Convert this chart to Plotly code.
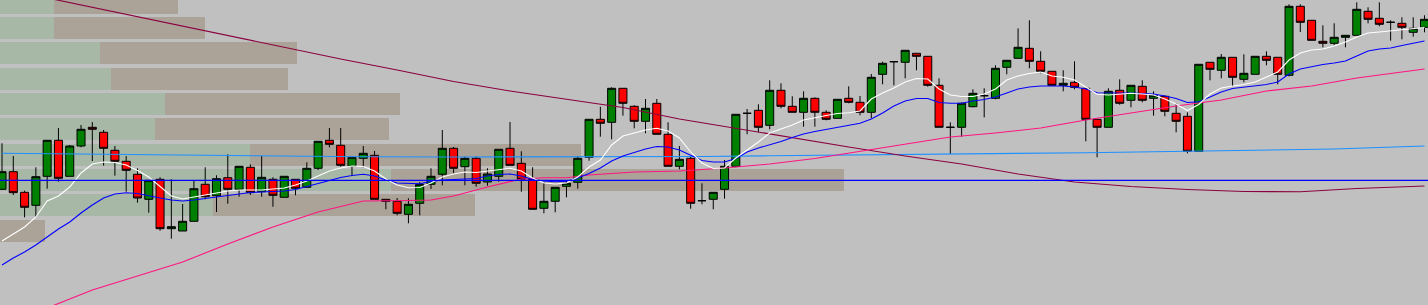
import plotly.graph_objects as go

# ---------------- data (prices in chart units) ----------------
open_ = [115.7,133.3,112.7,99.7,128.7,164.7,128.7,159,177.7,172.7,154.7,143.7,130.7,105.7,125.7,76.3,74,83.7,120.7,109.3,
         127.3,115.7,137.7,113.3,125.7,107.7,125.7,117.7,136.7,164.7,159.7,138.7,146.7,149.7,105.7,103.7,90.7,101.7,120.7,130.7,
         156.7,138.3,146.7,123,128.7,156.7,141.7,125.7,96.7,103.7,118.7,122.7,147.7,185.7,182.7,216.7,198.7,183.7,201.7,170.7,
         138.7,146.7,104.3,105.7,115.7,138.7,191.7,194.7,179.7,214.7,198.7,192.7,206.7,192.7,186.7,206.7,202.7,192.7,230.7,243.3,
         242.7,251.7,248.7,219.7,177.7,177.7,198.3,209.3,206.7,237.7,246.7,256.7,243.7,233.7,219.7,222.7,216.7,185.7,177.7,214.7,
         204.7,218.7,206.7,208.7,191.7,188.7,153.7,242.7,234.7,247.7,225.7,230.7,248.7,247.7,229.7,298.7,284.7,263.7,261.7,267.7,
         269.7,293.7,286.7,282.7,281.7,272.7,277.7]
high = [161.7,149,114.3,137.7,164.7,177,160,180,183,175,159,149,136.7,124.7,127.7,125.7,101,124.7,137.7,129.7,
        150.7,138.7,140.7,149,127.7,128.7,125.7,142.7,163.7,177,177,149,159,154,105.7,107,106.7,123,136.7,175,
        158,148.3,148.3,136.7,155.7,183,153.7,137.7,122.7,117.7,124.7,149,185.7,198.3,217.7,216.7,199.7,206,206,182.7,
        159,149,121.7,112.7,145,190.7,196,200.7,224.7,221.7,208.7,213.7,207.7,194.7,205.7,218.7,209,231,243.3,243.3,
        254.7,251.7,248.7,226.7,182.7,202.7,215.7,216.7,239.7,244.7,276.7,284.7,253.7,233.7,234.7,243.7,216.7,185.7,216.7,225.7,
        219.7,224.7,213.7,209.7,201.7,192.7,240.7,242.7,251,247.7,250.7,248.7,253.7,247.7,300.7,300.7,284.7,279.7,281.7,269.7,
        302.7,297.7,302.7,284.7,287.7,287.7,289.7]
low = [115,110,87.7,88.3,116.3,123.3,128.7,157.7,144,139.3,129.3,113.3,102.3,92.3,74.3,66.3,74,83.7,105.7,93,
       101.3,108.3,110,108.3,98.3,107.7,109.7,117.7,135,157.7,138.3,129,137.7,105.7,95.7,89.7,81.7,89.7,116,119.7,
       131.7,119.7,118.3,119.3,123.3,139.7,113.3,95.7,91.7,92.7,107.7,116.3,144.3,168.3,165.7,189.3,176.7,171.7,170.7,138.7,
       135.7,96.3,100.7,95.7,106.3,137.7,170.7,172.7,175.7,196.7,192.7,178.3,178.3,184.7,186.7,201.7,189.7,186.7,220.7,219.7,
       226.7,234.7,218.3,177.7,151,168.3,197.7,187.7,205.7,230.7,246.7,236.7,231.7,219.7,213.7,215.7,163.7,147.7,177.7,200.3,
       197.7,202.7,189.3,188.7,172.7,151.7,153.7,224.7,226.7,218.7,222.7,230.7,239.7,220.7,228.7,273,264.7,257.7,259.7,257.7,
       269.7,281.7,278.7,264.3,265.7,268.3,272.7]
close = [133.3,112.3,97.7,128.3,164.7,126.7,159,175.7,175.7,156.7,143.7,134.7,107,124.7,76.3,78.3,83.7,116.3,108.3,126.3,
         115.7,138.7,112.3,127.7,109.7,128.7,116.7,136.7,163.7,160.7,139.7,147.7,151.7,105.7,103.7,91.7,100.7,120.7,128.7,156.7,
         136.7,146.7,121.7,131,155.7,139.7,125.7,95.7,103.7,117.7,121.7,146.7,185.7,181.7,216.7,201.7,183.7,196.7,170.7,138.7,
         145.7,101.7,104.3,112.7,138.7,190.7,191.7,177.7,214.7,198.7,192.7,206.7,192.7,185.7,205.7,202.7,192.7,227.7,241.7,243.3,
         254.7,248.7,219.7,177.7,177.7,201.7,211.7,209.3,236.7,244.7,257.7,243.7,233.7,219.7,221.7,217.7,185.7,177.7,213.7,201.7,
         219.7,204.7,209.7,193.7,183.7,153.7,240.7,235.7,247.7,227.7,231.7,248.7,244.7,230.7,298.7,282.7,264.7,261.7,267.7,269.7,
         295.7,285.7,280.7,282.7,277.7,276.7,285.7]
bars = list(range(len(close)))

ma_fast = [64,71,78,88,104,109,118,132,141,143,142.5,140,134.5,128,118,109,106,108,110,112,
           114,115,115,115,116,117,120,124,129,134,137,139,138.5,134,126,120,117.3,117.5,122,128,
           131,133,132.5,134,135.5,136.7,134,127,122,121,122,128,138,145,160,169,172,175,176.7,174,
           167,153,142,136.5,137,147,155,163,172,176,180,185,187.5,189.5,191.5,192.3,194,206,212,217,
           223,226.5,226,216,210,208.5,208.5,211,216,225,229,231.5,233,229,227.7,225,218,210.7,210,211,
           211.7,211,210,206,201,194.5,200.5,211,217,219,220.5,223,228,233,245,252,255,256,259,263,
           268,272,273,274,275,276,277.5]
ma_mid = [40,47,53,60,68,76,83,92,100,107,111,112.3,111.5,109,107,105,104,105,106.5,108,
          109,110.5,112.5,113,113.5,114,115.5,118.5,122,125,127.5,129.5,130.7,129,125,122,121.3,121.3,123.5,125,
          125.5,126,126.5,129,130.5,131,129,125.5,124,123.3,123.7,127,131.5,137,144,149,152.5,156,158.5,158,
          155,149.5,144.5,143,143,146.5,153,157,160,163.5,167.5,171,173.5,175.5,177.5,179.5,181.7,186,192,199,
          204,206.5,206.5,202.5,201.7,201.7,204,205.5,208,212,216,218,219,219,219,218,216,212.3,212.3,212.3,
          212,211.5,211,209,206.5,202.5,203.3,208,213,216.5,218,219,220.5,223,231,236,238.5,240.5,242,244,
          249,254,256,257,259.5,262,264]

ma_slow_bars = [0,4,8,12,16,20,24,28,32,36,38,40,43,46,48,50,52,56,60,64,68,72,76,80,84,88,92,96,100,104,108,112,116,120,124,126]
ma_slow = [-19,-3,15,29,43,61,78,93,104,104.5,105,109,118,126,127.3,127.3,130,133,134,137,141,146.5,153.5,161,168,172,177,185,192,199,205,214,219,227,233,236]

ma_long_bars = [0,5,10,15,20,25,30,35,40,45,50,55,60,65,70,75,80,85,90,95,100,105,110,115,120,126]
ma_long = [316.5,304.7,293,281.5,270,257.5,246,235,223.5,214,206,197.5,186,176.5,167,158,149,141,131,123,118.5,115.5,113.5,113.3,116.5,119]

ma_trend_bars = [0,8,16,24,32,40,48,56,62,68,76,84,90,96,102,108,114,118,122,126]
ma_trend = [151.7,150.7,149.8,148.8,148.2,148,148,148,148.5,149.2,150,150.5,151.7,152.3,153.3,154.2,155.2,156,157.5,159]

poc_level = 124.7

# volume profile: price levels, buy-side and sell-side volumes
vp_levels = [302.4,277.05,251.7,226.35,201,175.65,150.3,124.95,99.6,74.25]
vp_buy = [54,54,100,111,165,155,250,391,213,0]
vp_sell = [124,151,197,177,235,234,331,453,262,45]

# ---------------- figure ----------------
BG = "#c0c0c0"
fig = go.Figure()

fig.add_trace(go.Bar(y=vp_levels, x=vp_buy, orientation="h", width=22,
                     marker=dict(color="#a7b8a7", line=dict(width=0)),
                     xaxis="x", yaxis="y", showlegend=False, hoverinfo="skip"))
fig.add_trace(go.Bar(y=vp_levels, x=vp_sell, orientation="h", width=22,
                     marker=dict(color="#aba398", line=dict(width=0)),
                     xaxis="x", yaxis="y", showlegend=False, hoverinfo="skip"))

fig.add_trace(go.Candlestick(x=bars, open=open_, high=high, low=low, close=close,
                             increasing=dict(line=dict(color="#000000", width=1), fillcolor="#008000"),
                             decreasing=dict(line=dict(color="#000000", width=1), fillcolor="#ff0000"),
                             whiskerwidth=0, xaxis="x2", yaxis="y", showlegend=False))

line_specs = [
    (ma_trend_bars, ma_trend, "#1e90ff"),
    (ma_long_bars, ma_long, "#8b0040"),
    (ma_slow_bars, ma_slow, "#ff1480"),
    (bars, ma_mid, "#0000ff"),
    (bars, ma_fast, "#ffffff"),
]
for xs, ys, col in line_specs:
    fig.add_trace(go.Scatter(x=xs, y=ys, mode="lines", line=dict(color=col, width=1.1),
                             xaxis="x2", yaxis="y", showlegend=False, hoverinfo="skip"))

fig.add_trace(go.Scatter(x=[bars[0] - 1, bars[-1] + 1], y=[poc_level, poc_level], mode="lines",
                         line=dict(color="#0000ff", width=1.2), xaxis="x2", yaxis="y",
                         showlegend=False, hoverinfo="skip"))

fig.update_layout(
    width=1428, height=305,
    margin=dict(l=0, r=0, t=0, b=0),
    paper_bgcolor=BG, plot_bgcolor=BG,
    barmode="stack",
    boxgap=0.29, boxgroupgap=0,
    showlegend=False,
    xaxis=dict(range=[0, 1428], visible=False, fixedrange=True),
    xaxis2=dict(range=[-0.177, 126.31], overlaying="x", anchor="y", visible=False,
                rangeslider=dict(visible=False)),
    yaxis=dict(range=[0, 305], visible=False),
)

fig.write_html("out.html")
